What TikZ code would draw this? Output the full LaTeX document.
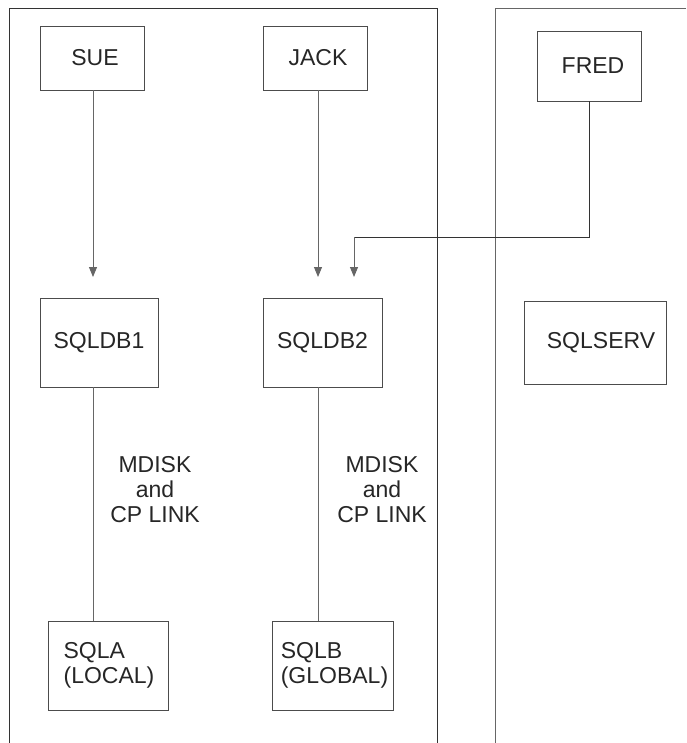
\documentclass[tikz,border=0pt]{standalone}
\usepackage{fontspec}
\setmainfont{Liberation Sans}
\usetikzlibrary{arrows.meta}
\begin{document}
\begin{tikzpicture}[x=1pt,y=-1pt,
  box/.style={draw=black!70,line width=0.9pt,inner sep=0pt,font=\fontsize{23}{25}\selectfont,text=black!85},
  conn/.style={draw=black!60,line width=0.9pt},
  arr/.style={conn,-{Triangle[length=10pt,width=8pt]}},
  panel/.style={draw=black!80,line width=0.9pt},
  lbl/.style={align=center,font=\fontsize{23}{25}\selectfont,text=black!85,inner sep=0pt}]
\useasboundingbox (0,0) rectangle (686,743);
% panels
\draw[panel] (9,743) -- (9,8) -- (437,8) -- (437,743);
\draw[panel,draw=black!60] (686,8) -- (495,8) -- (495,743);
% boxes
\node[box,minimum width=104pt,minimum height=64pt] (sue) at (92,58) {\hspace{6pt}SUE};
\node[box,minimum width=104pt,minimum height=64pt] (jack) at (315,58) {\hspace{6pt}JACK};
\node[box,minimum width=104pt,minimum height=70pt] (fred) at (589,66) {\hspace{8pt}FRED};
\node[box,minimum width=118pt,minimum height=89pt] (db1) at (99,342.5) {SQLDB1};
\node[box,minimum width=119pt,minimum height=89pt] (db2) at (322.5,342.5) {SQLDB2};
\node[box,minimum width=142pt,minimum height=83pt] (serv) at (595,342.5) {\hspace{12pt}SQLSERV};
\node[box,minimum width=120pt,minimum height=89pt,align=left] (sqla) at (108,665.5) {\hspace{2pt}SQLA\\\hspace{2pt}(LOCAL)};
\node[box,minimum width=121pt,minimum height=89pt,align=left] (sqlb) at (332.5,665.5) {\hspace{4pt}SQLB\\\hspace{4pt}(GLOBAL)};
% arrow ends
\coordinate (e1) at (93,277);
\coordinate (e2) at (318,277);
\coordinate (fturn) at (354,237);
\coordinate (e3) at (354,277);
\draw[arr] (sue.south -| e1) -- (e1);
\draw[arr] (jack.south -| e2) -- (e2);
\draw[conn,draw=black!80] (fred.south) |- (fturn);
\draw[arr] (fturn) -- (e3);
% links
\draw[conn] (db1.south -| e1) -- (sqla.north -| e1);
\draw[conn] (db2.south -| e2) -- (sqlb.north -| e2);
\node[lbl] (l1) at (155,490) {MDISK\\and\\CP LINK};
\node[lbl] (l2) at (382,490) {MDISK\\and\\CP LINK};
\end{tikzpicture}
\end{document}
